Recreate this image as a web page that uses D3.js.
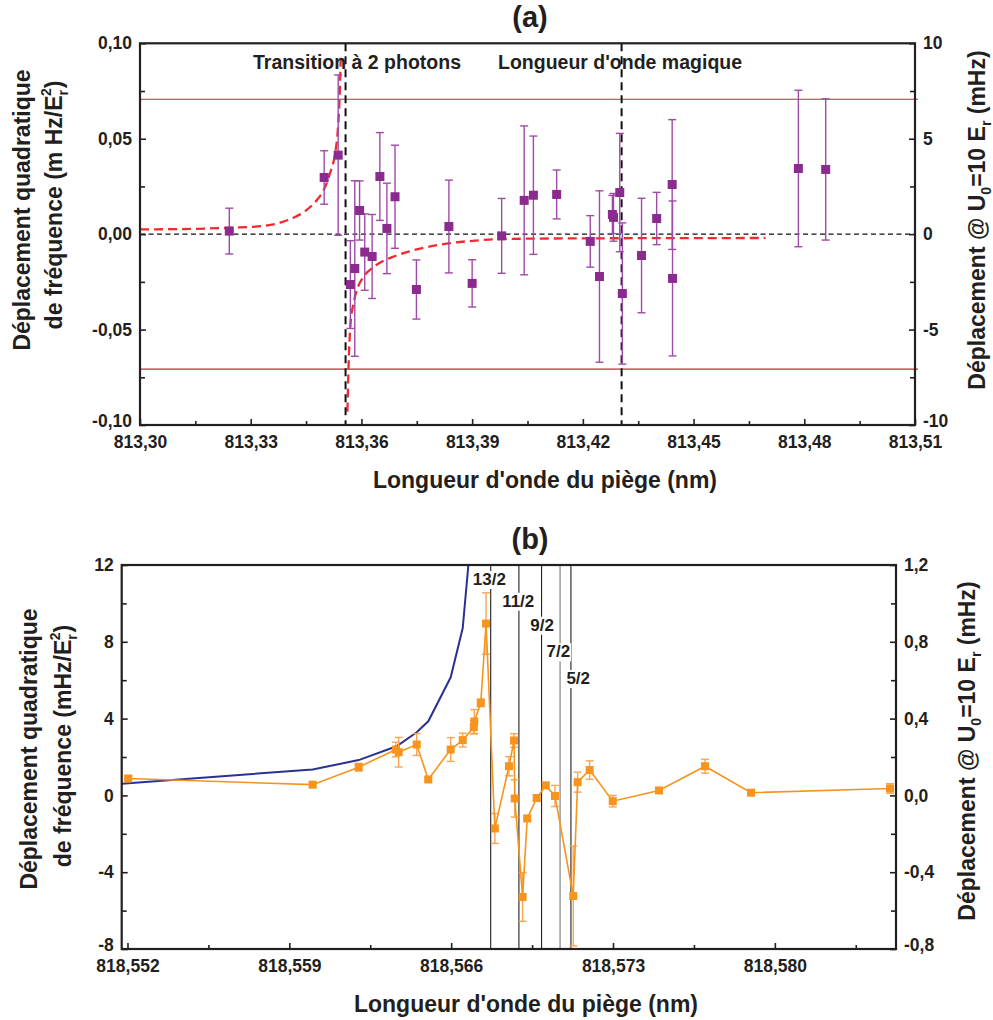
<!DOCTYPE html>
<html><head><meta charset="utf-8">
<script src="https://cdn.jsdelivr.net/npm/d3@7"></script>
<style>
body{margin:0;background:#fff}
svg text{font-family:"Liberation Sans",Arial,Helvetica,sans-serif;font-weight:bold;fill:#231f20}
</style></head><body>
<svg id="c" width="993" height="1020"></svg>
<script>
// ---------- Panel (a) data ----------
const aLambda = [813.3242,813.3499,813.3537,813.3570,813.3582,813.3595,813.3609,813.3629,813.3650,813.3669,
  813.3691,813.3749,813.3837,813.3900,813.3980,813.4041,813.4066,813.4129,813.4220,813.4245,
  813.4280,813.4283,813.4300,813.4307,813.4359,813.4400,813.4442,813.4443,813.4784,813.4858];
const aShift = [0.0016,0.0297,0.0414,-0.0264,-0.0180,0.0124,-0.0094,-0.0117,0.0302,0.0030,
  0.0196,-0.0290,0.0040,-0.0258,-0.0009,0.0177,0.0204,0.0208,-0.0038,-0.0222,
  0.0103,0.0088,0.0218,-0.0311,-0.0112,0.0082,0.0260,-0.0232,0.0344,0.0339];
const aErr = [0.012,0.014,0.042,0.023,0.046,0.0155,0.020,0.022,0.023,0.0237,
  0.027,0.0155,0.0243,0.0124,0.0196,0.039,0.031,0.0128,0.0135,0.0449,
  0.010,0.0125,0.031,0.037,0.030,0.0137,0.034,0.0406,0.041,0.037];
const aFitLeftX = [813.300,813.315,813.325,813.333,813.338,813.342,813.345,813.348,813.350,813.3515,813.3527,813.3536,813.3541,813.3544];
const aFitLeftY = [0.0025,0.0028,0.0034,0.0042,0.0060,0.0090,0.0125,0.0180,0.0240,0.0320,0.0405,0.0545,0.0720,0.0930];
const aFitRightX = [813.3562,813.3565,813.3570,813.3580,813.3590,813.3605,813.3622,813.3650,813.3685,813.3740,813.3830,813.3900,813.3992,813.4200,813.4450,813.4695];
const aFitRightY = [-0.0930,-0.0700,-0.0480,-0.0350,-0.0280,-0.0225,-0.0189,-0.0150,-0.0119,-0.0085,-0.0050,-0.0035,-0.0025,-0.0022,-0.0021,-0.0020];
const aLimits = [0.0707,-0.0707];
const aMarkerLines = [813.3557,813.4305];
const aAnnotations = ["Transition à 2 photons","Longueur d'onde magique"];
const aXDomain = [813.30,813.51];
const aXTicks = [813.30,813.33,813.36,813.39,813.42,813.45,813.48,813.51];
const aXTickLabels = ["813,30","813,33","813,36","813,39","813,42","813,45","813,48","813,51"];
const aXMinor = [813.315,813.345,813.375,813.405,813.435,813.465,813.495];
const aYDomain = [-0.10,0.10];
const aYTicks = [0.10,0.05,0.00,-0.05,-0.10];
const aYTickLabels = ["0,10","0,05","0,00","-0,05","-0,10"];
const aYMinor = [0.075,0.025,-0.025,-0.075];
const aY2Domain = [-10,10];
const aY2Ticks = [10,5,0,-5,-10];
const aY2TickLabels = ["10","5","0","-5","-10"];
const aY2Minor = [7.5,2.5,-2.5,-7.5];

// ---------- Panel (b) data ----------
const bLambda = [818.55203,818.56001,818.56200,818.56361,818.56373,818.56451,818.56501,818.56598,818.56650,818.56698,
  818.56700,818.56728,818.56751,818.56789,818.56850,818.56872,818.56875,818.56909,818.56929,818.56970,
  818.57009,818.57049,818.57128,818.57147,818.57199,818.57299,818.57499,818.57698,818.57897,818.58498];
const bShift = [0.88,0.56,1.47,2.39,2.25,2.65,0.83,2.39,2.88,3.55,
  3.85,4.82,8.95,-1.72,1.52,2.86,-0.16,-5.29,-1.20,-0.14,
  0.52,-0.03,-5.24,0.69,1.32,-0.30,0.26,1.52,0.14,0.36];
const bErr = [0.15,0.10,0.20,0.38,0.77,0.57,0.10,0.62,0.36,0.35,
  0.62,0.20,1.60,0.78,0.50,0.35,0.97,1.27,0.15,0.15,
  0.15,0.55,2.60,0.52,0.48,0.30,0.10,0.36,0.10,0.25];
const bTheoryX = [818.55175,818.56001,818.56200,818.56364,818.56451,818.56501,818.56598,818.56650,818.56699];
const bTheoryY = [0.61,1.35,1.84,2.56,3.29,3.86,6.15,8.72,15.3];
const bLevels = [818.56771,818.56893,818.56991,818.57071,818.57118];
const bLevelLabels = ["13/2","11/2","9/2","7/2","5/2"];
const bXDomain = [818.55175,818.58524];
const bXTicks = [818.552,818.559,818.566,818.573,818.580];
const bXTickLabels = ["818,552","818,559","818,566","818,573","818,580"];
const bXMinor = [818.5555,818.5625,818.5695,818.5765,818.5835];
const bYDomain = [-8,12];
const bYTicks = [12,8,4,0,-4,-8];
const bYTickLabels = ["12","8","4","0","-4","-8"];
const bYMinor = [10,6,2,-2,-6];
const bY2Domain = [-0.8,1.2];
const bY2Ticks = [1.2,0.8,0.4,0.0,-0.4,-0.8];
const bY2TickLabels = ["1,2","0,8","0,4","0,0","-0,4","-0,8"];
const bY2Minor = [1.0,0.6,0.2,-0.2,-0.6];

// ---------- drawing ----------
const svg = d3.select("#c");
const INK = "#231f20";
const TICKFS = "17.5px";
const TITLEFS = "23px";

function lab(arr, labels){ return v => labels[arr.indexOf(v)]; }

function frame(g, L, R, T, B, xs, ys, y2s, cfg){
  // minor ticks
  g.append("g").attr("transform",`translate(0,${B})`)
    .call(d3.axisBottom(xs).tickValues(cfg.xMinor).tickSize(-4).tickFormat(""));
  g.append("g").attr("transform",`translate(${L},0)`)
    .call(d3.axisLeft(ys).tickValues(cfg.yMinor).tickSize(-5).tickFormat(""));
  g.append("g").attr("transform",`translate(${R},0)`)
    .call(d3.axisRight(y2s).tickValues(cfg.y2Minor).tickSize(-5).tickFormat(""));
  // major ticks
  g.append("g").attr("transform",`translate(0,${B})`)
    .call(d3.axisBottom(xs).tickValues(cfg.xTicks).tickSize(-6).tickPadding(10.5).tickFormat(lab(cfg.xTicks,cfg.xLabels)));
  const gl = g.append("g").attr("transform",`translate(${L},0)`)
    .call(d3.axisLeft(ys).tickValues(cfg.yTicks).tickSize(-6).tickPadding(8).tickFormat(lab(cfg.yTicks,cfg.yLabels)));
  const gr = g.append("g").attr("transform",`translate(${R},0)`)
    .call(d3.axisRight(y2s).tickValues(cfg.y2Ticks).tickSize(-6).tickPadding(8).tickFormat(lab(cfg.y2Ticks,cfg.y2Labels)));
  g.selectAll(".domain").remove();
  g.selectAll(".tick line").attr("stroke",INK).attr("stroke-width",1.6);
  g.selectAll(".tick text").attr("font-size",TICKFS).attr("fill",INK)
    .style("font-family",'"Liberation Sans",Arial,sans-serif').style("font-weight","bold");
  // lift the lowest side labels a little so they clear the bottom tick labels
  [gl,gr].forEach(a=>a.selectAll(".tick").filter((d,i,n)=>i===n.length-1).select("text").attr("y",-4));
  g.append("rect").attr("x",L).attr("y",T).attr("width",R-L).attr("height",B-T)
    .attr("fill","none").attr("stroke",INK).attr("stroke-width",2.2);
}

function vtext(g, x, y, parts, fs){
  const t = g.append("text").attr("transform",`translate(${x},${y}) rotate(-90)`)
    .attr("text-anchor","middle").attr("font-size",fs);
  parts(t);
  return t;
}

// ===== Panel (a) =====
{
  const L=140,R=915,T=43.3,B=425;
  const g = svg.append("g");
  const x = d3.scaleLinear().domain(aXDomain).range([L,R]);
  const y = d3.scaleLinear().domain(aYDomain).range([B,T]);
  const y2 = d3.scaleLinear().domain(aY2Domain).range([B,T]);

  g.append("defs").append("clipPath").attr("id","clipA")
    .append("rect").attr("x",L).attr("y",T).attr("width",R-L).attr("height",B-T);

  g.selectAll(".lim").data(aLimits).join("line")
    .attr("x1",L).attr("x2",R+3).attr("y1",d=>y(d)).attr("y2",d=>y(d))
    .attr("stroke","#c42a32").attr("stroke-width",1.1);
  g.append("line").attr("x1",L).attr("x2",R).attr("y1",y(0)).attr("y2",y(0))
    .attr("stroke","#111").attr("stroke-width",1.2).attr("stroke-dasharray","5,3.5");
  const line = d3.line().x(d=>x(d[0])).y(d=>y(d[1])).curve(d3.curveMonotoneX);
  const fits = [d3.zip(aFitLeftX,aFitLeftY), d3.zip(aFitRightX,aFitRightY)];
  g.append("g").attr("clip-path","url(#clipA)").selectAll("path").data(fits).join("path")
    .attr("d",line).attr("fill","none").attr("stroke","#ee2b2f").attr("stroke-width",2.3)
    .attr("stroke-dasharray","9,5");
  g.selectAll(".vm").data(aMarkerLines).join("line")
    .attr("x1",d=>x(d)).attr("x2",d=>x(d)).attr("y1",T).attr("y2",B)
    .attr("stroke","#111").attr("stroke-width",2).attr("stroke-dasharray","8,5");
  const pts = d3.range(aLambda.length).map(i=>({x:aLambda[i],y:aShift[i],e:aErr[i]}));
  const eb = g.append("g").attr("stroke","#a04aa8").attr("stroke-width",1.4);
  eb.selectAll(".v").data(pts).join("line")
    .attr("x1",d=>x(d.x)).attr("x2",d=>x(d.x)).attr("y1",d=>y(d.y-d.e)).attr("y2",d=>y(d.y+d.e));
  eb.selectAll(".t").data(pts).join("line")
    .attr("x1",d=>x(d.x)-4).attr("x2",d=>x(d.x)+4).attr("y1",d=>y(d.y+d.e)).attr("y2",d=>y(d.y+d.e));
  eb.selectAll(".b").data(pts).join("line")
    .attr("x1",d=>x(d.x)-4).attr("x2",d=>x(d.x)+4).attr("y1",d=>y(d.y-d.e)).attr("y2",d=>y(d.y-d.e));
  g.selectAll(".m").data(pts).join("rect")
    .attr("x",d=>x(d.x)-4.5).attr("y",d=>y(d.y)-4.5).attr("width",9).attr("height",9)
    .attr("fill","#8b2a8f");

  frame(g,L,R,T,B,x,y,y2,{xTicks:aXTicks,xLabels:aXTickLabels,xMinor:aXMinor,
    yTicks:aYTicks,yLabels:aYTickLabels,yMinor:aYMinor,y2Ticks:aY2Ticks,y2Labels:aY2TickLabels,y2Minor:aY2Minor});

  g.append("text").attr("x",253).attr("y",69).attr("font-size","19.5px").text(aAnnotations[0]);
  g.append("text").attr("x",498).attr("y",69).attr("font-size","19.5px").text(aAnnotations[1]);
  g.append("text").attr("x",530).attr("y",27).attr("text-anchor","middle").attr("font-size","29px").text("(a)");
  g.append("text").attr("x",545).attr("y",488).attr("text-anchor","middle").attr("font-size",TITLEFS)
    .text("Longueur d'onde du piège (nm)");
  vtext(g,30,210,t=>t.text("Déplacement quadratique"),TITLEFS);
  vtext(g,62,205,t=>{
    t.append("tspan").text("de fréquence (m Hz/E");
    t.append("tspan").attr("font-size","14px").attr("dy",6).text("r");
    t.append("tspan").attr("font-size","14px").attr("dx",-6).attr("dy",-17).text("2");
    t.append("tspan").attr("dy",11).text(")");
  },TITLEFS);
  vtext(g,985,220,t=>{
    t.append("tspan").text("Déplacement @ U");
    t.append("tspan").attr("font-size","14px").attr("dy",6).text("0");
    t.append("tspan").attr("dy",-6).text("=10 E");
    t.append("tspan").attr("font-size","14px").attr("dy",6).text("r");
    t.append("tspan").attr("dy",-6).text(" (mHz)");
  },TITLEFS);
}

// ===== Panel (b) =====
{
  const L=121.7,R=896,T=565,B=949;
  const g = svg.append("g");
  const x = d3.scaleLinear().domain(bXDomain).range([L,R]);
  const y = d3.scaleLinear().domain(bYDomain).range([B,T]);
  const y2 = d3.scaleLinear().domain(bY2Domain).range([B,T]);

  g.append("defs").append("clipPath").attr("id","clipB")
    .append("rect").attr("x",L).attr("y",T).attr("width",R-L).attr("height",B-T);

  g.selectAll(".lv").data(bLevels).join("line")
    .attr("x1",d=>x(d)).attr("x2",d=>x(d)).attr("y1",T).attr("y2",B)
    .attr("stroke",(d,i)=>i===3?"#777":"#222").attr("stroke-width",1.1);

  const line = d3.line().x(d=>x(d[0])).y(d=>y(d[1]));
  g.append("path").attr("clip-path","url(#clipB)").datum(d3.zip(bTheoryX,bTheoryY))
    .attr("d",line).attr("fill","none").attr("stroke","#2b3192").attr("stroke-width",2);

  const pts = d3.range(bLambda.length).map(i=>({x:bLambda[i],y:bShift[i],e:bErr[i]}));
  const eb = g.append("g").attr("stroke","#f6a655").attr("stroke-width",1.4);
  eb.selectAll(".v").data(pts).join("line")
    .attr("x1",d=>x(d.x)).attr("x2",d=>x(d.x)).attr("y1",d=>y(d.y-d.e)).attr("y2",d=>y(d.y+d.e));
  eb.selectAll(".t").data(pts).join("line")
    .attr("x1",d=>x(d.x)-4).attr("x2",d=>x(d.x)+4).attr("y1",d=>y(d.y+d.e)).attr("y2",d=>y(d.y+d.e));
  eb.selectAll(".b").data(pts).join("line")
    .attr("x1",d=>x(d.x)-4).attr("x2",d=>x(d.x)+4).attr("y1",d=>y(d.y-d.e)).attr("y2",d=>y(d.y-d.e));
  g.append("path").datum(pts).attr("d",d3.line().x(d=>x(d.x)).y(d=>y(d.y)))
    .attr("fill","none").attr("stroke","#f7941d").attr("stroke-width",1.6);
  g.selectAll(".m").data(pts).join("rect")
    .attr("x",d=>x(d.x)-4).attr("y",d=>y(d.y)-4).attr("width",8).attr("height",8)
    .attr("fill","#f7941d");

  const lblDx = [-1.4,-0.7,0.6,-1.7,7.3];
  const lblY = [585,606.7,630.7,657.3,684];
  bLevels.forEach((d,i)=>{
    const tg = g.append("g");
    const t = tg.append("text").attr("x",x(d)+lblDx[i]).attr("y",lblY[i])
      .attr("text-anchor","middle").attr("font-size","17px").text(bLevelLabels[i]);
    const bb = t.node().getBBox();
    tg.insert("rect","text").attr("x",bb.x-1).attr("y",bb.y+1).attr("width",bb.width+2).attr("height",bb.height-1)
      .attr("fill","#fff");
  });

  frame(g,L,R,T,B,x,y,y2,{xTicks:bXTicks,xLabels:bXTickLabels,xMinor:bXMinor,
    yTicks:bYTicks,yLabels:bYTickLabels,yMinor:bYMinor,y2Ticks:bY2Ticks,y2Labels:bY2TickLabels,y2Minor:bY2Minor});

  g.append("text").attr("x",530).attr("y",549).attr("text-anchor","middle").attr("font-size","29px").text("(b)");
  g.append("text").attr("x",526).attr("y",1011.5).attr("text-anchor","middle").attr("font-size",TITLEFS)
    .text("Longueur d'onde du piège (nm)");
  vtext(g,37,749,t=>t.text("Déplacement quadratique"),TITLEFS);
  vtext(g,71,746,t=>{
    t.append("tspan").text("de fréquence (mHz/E");
    t.append("tspan").attr("font-size","14px").attr("dy",6).text("r");
    t.append("tspan").attr("font-size","14px").attr("dx",-6).attr("dy",-17).text("2");
    t.append("tspan").attr("dy",11).text(")");
  },TITLEFS);
  vtext(g,975,751,t=>{
    t.append("tspan").text("Déplacement @ U");
    t.append("tspan").attr("font-size","14px").attr("dy",6).text("0");
    t.append("tspan").attr("dy",-6).text("=10 E");
    t.append("tspan").attr("font-size","14px").attr("dy",6).text("r");
    t.append("tspan").attr("dy",-6).text(" (mHz)");
  },TITLEFS);
}
</script>
</body></html>
